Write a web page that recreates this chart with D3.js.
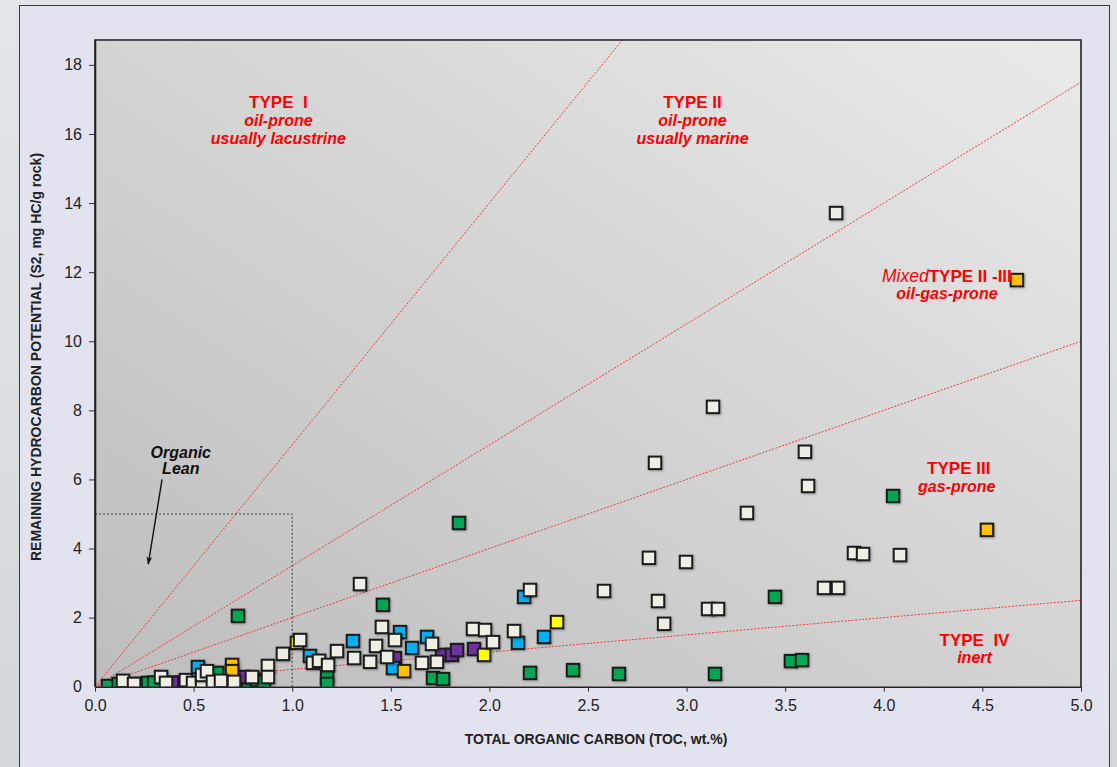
<!DOCTYPE html>
<html>
<head>
<meta charset="utf-8">
<script src="https://cdn.jsdelivr.net/npm/d3@7"></script>
<style>
  html, body { margin: 0; padding: 0; background: #dfe3e5; }
  svg { display: block; font-family: "Liberation Sans", Arial, sans-serif; }
</style>
</head>
<body>
<div class="chart"></div>
<script>
// Data: [TOC wt.%, S2 mg HC/g rock]
const creamPts = [
  [0.142,0.17],[0.198,0.08],[0.335,0.28],[0.360,0.11],[0.461,0.19],[0.497,0.11],
  [0.543,0.08],[0.543,0.34],[0.568,0.45],[0.598,0.14],[0.639,0.17],[0.705,0.14],
  [0.796,0.28],[0.877,0.60],[0.877,0.28],[0.953,0.95],[1.040,1.35],[1.105,0.69],
  [1.136,0.75],[1.182,0.63],[1.227,1.03],[1.314,0.83],[1.344,2.97],[1.395,0.72],
  [1.425,1.18],[1.455,1.73],[1.481,0.86],[1.521,1.35],[1.658,0.69],[1.734,0.72],
  [1.709,1.24],[1.917,1.67],[1.978,1.64],[2.018,1.29],[2.125,1.61],[2.206,2.80],
  [2.581,2.77],[2.809,3.73],[2.840,6.48],[2.855,2.48],[2.886,1.82],[2.997,3.61],
  [3.109,2.25],[3.159,2.25],[3.134,8.10],[3.306,5.03],[3.600,6.80],[3.616,5.81],
  [3.697,2.86],[3.758,13.71],[3.768,2.86],[3.849,3.87],[3.895,3.84],[4.082,3.81]
];
const greenPts = [
  [0.066,0.02],[0.12,0.08],[0.228,0.08],[0.269,0.11],[0.30,0.12],[0.406,0.11],
  [0.44,0.12],[0.619,0.40],[0.725,2.05],[0.751,0.05],[0.776,0.02],[0.821,0.19],
  [0.857,0.14],[1.177,0.28],[1.177,0.08],[1.460,2.37],[1.714,0.25],[1.765,0.22],
  [1.846,4.74],[2.206,0.40],[2.424,0.48],[2.657,0.37],[3.144,0.37],[3.448,2.60],
  [3.529,0.74],[3.585,0.77],[4.047,5.52]
];
const bluePts = [
  [0.522,0.57],[1.090,0.89],[1.308,1.32],[1.511,0.54],[1.547,1.58],[1.608,1.12],
  [1.684,1.44],[2.145,1.27],[2.176,2.60],[2.277,1.44]
];
const purplePts = [
  [0.39,0.11],[0.751,0.28],[1.521,0.83],[1.760,0.92],[1.810,0.92],[1.836,1.06],[1.922,1.09]
];
const orangePts = [
  [0.695,0.63],[0.695,0.45],[1.567,0.45],[4.523,4.54],[4.675,11.77]
];
const yellowPts = [
  [1.024,1.27],[1.973,0.92],[2.343,1.87]
];

// HI boundary slopes (S2/TOC): 700, 350, 200, 50
const typeSlopes = [7, 3.5, 2, 0.5];
const xTicks = [0, 0.5, 1, 1.5, 2, 2.5, 3, 3.5, 4, 4.5, 5];
const yTicks = [0, 2, 4, 6, 8, 10, 12, 14, 16, 18];
const leanBox = { toc: 1, s2: 5 };

// annotation text, anchored in data units
const labels = [
  { x: 0.93, y: 16.75, lines: [['TYPE\u00a0\u00a0I', 'b']] },
  { x: 0.93, y: 16.22, lines: [['oil-prone', 'bi']] },
  { x: 0.93, y: 15.72, lines: [['usually lacustrine', 'bi']] },
  { x: 3.03, y: 16.75, lines: [['TYPE II', 'b']] },
  { x: 3.03, y: 16.22, lines: [['oil-prone', 'bi']] },
  { x: 3.03, y: 15.72, lines: [['usually marine', 'bi']] },
  { x: 4.32, y: 11.72, lines: [['Mixed', 'i'], ['TYPE II -III', 'b']] },
  { x: 4.32, y: 11.22, lines: [['oil-gas-prone', 'bi']] },
  { x: 4.38, y: 6.15, lines: [['TYPE III', 'b']] },
  { x: 4.37, y: 5.65, lines: [['gas-prone', 'bi']] },
  { x: 4.46, y: 1.18, lines: [['TYPE\u00a0\u00a0IV', 'b']] },
  { x: 4.46, y: 0.68, lines: [['inert', 'bi']] }
];
const leanLabel = [{ x: 0.435, y: 6.62, t: 'Organic' }, { x: 0.435, y: 6.15, t: 'Lean' }];

const svgWidth = 1117, svgHeight = 767;
const margin = { top: 40, right: 36, bottom: 80.3, left: 95 };
const width = svgWidth - margin.left - margin.right;
const height = svgHeight - margin.top - margin.bottom;

const xScale = d3.scaleLinear().domain([0, 5]).range([0, width]);
const yScale = d3.scaleLinear().domain([0, 18.72]).range([height, 0]);

const svg = d3.select('.chart').append('svg')
  .attr('width', svgWidth).attr('height', svgHeight);

const defs = svg.append('defs');
const grad = defs.append('linearGradient').attr('id', 'plotGrad')
  .attr('x1', 0).attr('y1', 1).attr('x2', 1).attr('y2', 0);
grad.append('stop').attr('offset', '0%').attr('stop-color', '#bdbdbd');
grad.append('stop').attr('offset', '100%').attr('stop-color', '#eaeaea');
const sideGrad = defs.append('linearGradient').attr('id', 'sideGrad')
  .attr('x1', 0).attr('y1', 0).attr('x2', 0).attr('y2', 1);
sideGrad.append('stop').attr('offset', '0%').attr('stop-color', '#e2e6e8');
sideGrad.append('stop').attr('offset', '100%').attr('stop-color', '#d3d8db');
defs.append('clipPath').attr('id', 'plotClip').append('rect')
  .attr('width', width).attr('height', height);
defs.append('filter').attr('id', 'shadow')
  .attr('x', '-30%').attr('y', '-30%').attr('width', '170%').attr('height', '170%')
  .append('feDropShadow').attr('dx', 1).attr('dy', 1).attr('stdDeviation', 0.8)
  .attr('flood-color', '#000').attr('flood-opacity', 0.3);
defs.append('marker').attr('id', 'arrow')
  .attr('viewBox', '0 0 10 10').attr('refX', 9).attr('refY', 5)
  .attr('markerWidth', 8).attr('markerHeight', 6).attr('orient', 'auto')
  .append('path').attr('d', 'M0,1.5 L10,5 L0,8.5 L3,5 Z').attr('fill', '#111');

// page background + frame
svg.append('rect').attr('width', svgWidth).attr('height', svgHeight).attr('fill', 'url(#sideGrad)');
svg.append('rect').attr('x', 19.5).attr('y', 5.5).attr('width', 1090).attr('height', 800)
  .attr('fill', '#e3e3ef').attr('stroke', '#3a3a3a').attr('stroke-width', 1);

const g = svg.append('g').attr('transform', 'translate(' + margin.left + ',' + margin.top + ')');

g.append('rect').attr('width', width).attr('height', height).attr('fill', 'url(#plotGrad)');

const plot = g.append('g').attr('clip-path', 'url(#plotClip)');

// kerogen type boundaries
plot.selectAll('.type-line').data(typeSlopes).enter().append('line')
  .attr('class', 'type-line')
  .attr('x1', xScale(0)).attr('y1', yScale(0))
  .attr('x2', d => xScale(5)).attr('y2', d => yScale(5 * d))
  .attr('stroke', '#f03a3a').attr('stroke-width', 1)
  .attr('stroke-dasharray', '2,1.5');

// organic lean box
plot.append('path')
  .attr('d', 'M' + xScale(0) + ',' + yScale(leanBox.s2) + 'H' + xScale(leanBox.toc) + 'V' + yScale(0))
  .attr('fill', 'none').attr('stroke', '#222').attr('stroke-width', 0.8)
  .attr('stroke-dasharray', '2,2');

// arrow
g.append('line')
  .attr('x1', xScale(0.34)).attr('y1', yScale(6.0))
  .attr('x2', xScale(0.27)).attr('y2', yScale(3.55))
  .attr('stroke', '#111').attr('stroke-width', 1.4)
  .attr('marker-end', 'url(#arrow)');

// points
const series = [
  { pts: greenPts, fill: '#00a651' },
  { pts: purplePts, fill: '#7030a0' },
  { pts: bluePts, fill: '#00b0f0' },
  { pts: orangePts, fill: '#ffc000' },
  { pts: yellowPts, fill: '#ffff00' },
  { pts: creamPts, fill: '#efeee5' }
];
const sz = 12.5;
series.forEach(s => {
  plot.append('g').selectAll('rect').data(s.pts).enter().append('rect')
    .attr('x', d => xScale(d[0]) - sz / 2)
    .attr('y', d => yScale(d[1]) - sz / 2)
    .attr('width', sz).attr('height', sz)
    .attr('fill', s.fill).attr('stroke', '#1a1a1a').attr('stroke-width', 2)
    .attr('filter', 'url(#shadow)');
});

// plot frame
g.append('path')
  .attr('d', 'M0,' + height + 'V0H' + width + 'V' + height)
  .attr('fill', 'none').attr('stroke', '#222').attr('stroke-width', 1.6);

// axes
const xAxis = d3.axisBottom(xScale).tickValues(xTicks).tickFormat(d3.format('.1f'))
  .tickSizeInner(5).tickSizeOuter(0).tickPadding(8);
const xAxisDraw = g.append('g').attr('transform', 'translate(0,' + height + ')');
xAxis(xAxisDraw);
const yAxis = d3.axisLeft(yScale).tickValues(yTicks).tickFormat(d3.format('d'))
  .tickSizeInner(6).tickSizeOuter(0).tickPadding(7);
const yAxisDraw = g.append('g');
yAxis(yAxisDraw);
[xAxisDraw, yAxisDraw].forEach(a => {
  a.select('.domain').attr('stroke', '#222').attr('stroke-width', 1.6);
  a.selectAll('.tick line').attr('stroke', '#333');
  a.selectAll('.tick text').attr('fill', '#222').style('font-size', '16px')
    .style('font-family', '"Liberation Sans", Arial, sans-serif');
});
yAxisDraw.select('.tick:first-of-type line').remove();

// axis titles
svg.append('text').attr('x', 596).attr('y', 744)
  .attr('text-anchor', 'middle').attr('font-weight', 'bold').attr('font-size', 14)
  .attr('fill', '#222').text('TOTAL ORGANIC CARBON (TOC, wt.%)');
svg.append('text').attr('transform', 'translate(41,357) rotate(-90)')
  .attr('text-anchor', 'middle').attr('font-weight', 'bold').attr('font-size', 14)
  .attr('fill', '#222').text('REMAINING HYDROCARBON POTENTIAL (S2, mg HC/g rock)');

// type annotations
labels.forEach(l => {
  const t = g.append('text').attr('x', xScale(l.x)).attr('y', yScale(l.y))
    .attr('text-anchor', 'middle').attr('fill', '#ff0000');
  l.lines.forEach(([txt, st]) => {
    t.append('tspan').text(txt)
      .attr('font-weight', st.includes('b') ? 'bold' : 'normal')
      .attr('font-style', st.includes('i') ? 'italic' : 'normal')
      .attr('font-size', st === 'b' ? 17 : (st === 'i' ? 17.5 : 16));
  });
});

g.selectAll('.lean').data(leanLabel).enter().append('text')
  .attr('x', d => xScale(d.x)).attr('y', d => yScale(d.y))
  .attr('text-anchor', 'middle').attr('font-weight', 'bold').attr('font-style', 'italic')
  .attr('font-size', 16).attr('fill', '#111').text(d => d.t);
</script>
</body>
</html>
